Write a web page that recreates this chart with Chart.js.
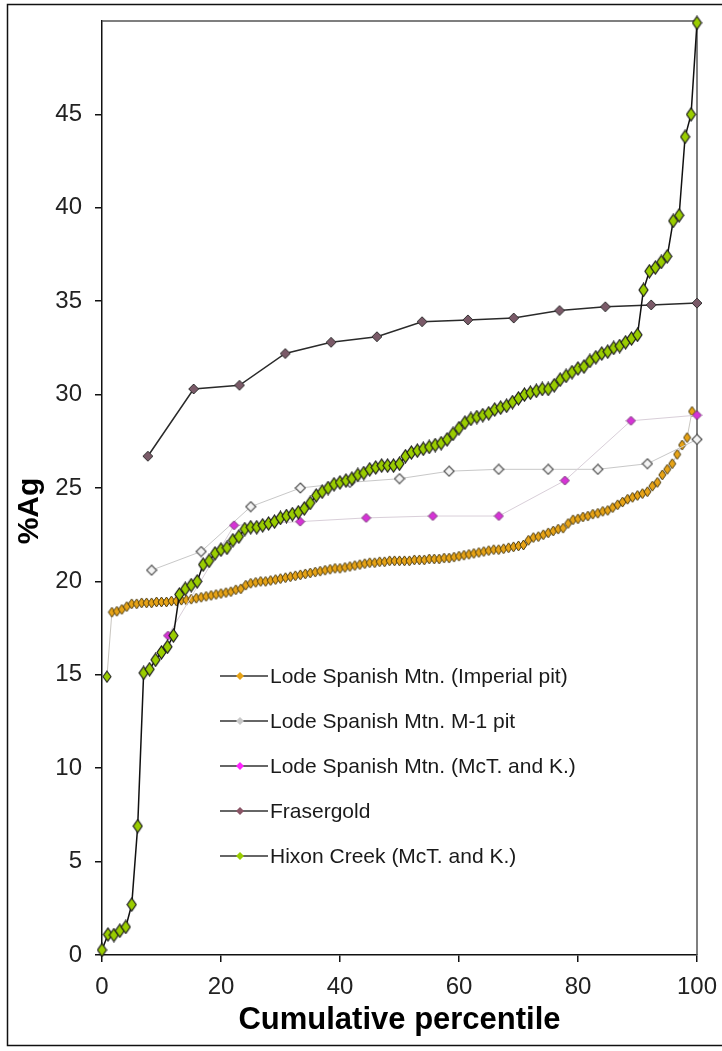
<!DOCTYPE html>
<html><head><meta charset="utf-8">
<script src="https://cdn.jsdelivr.net/npm/chart.js@4.4.0/dist/chart.umd.min.js"></script>
<style>html,body{margin:0;padding:0;background:#fff;}canvas{display:block;}</style>
</head><body>
<canvas id="c" width="722" height="1051"></canvas>
<script>
// ---------- DATA ----------
const seriesNames = [
  "Lode Spanish Mtn. (Imperial pit)",
  "Lode Spanish Mtn. M-1 pit",
  "Lode Spanish Mtn. (McT. and K.)",
  "Frasergold",
  "Hixon Creek (McT. and K.)"
];
// Imperial pit: %Ag sorted ascending (percentile = rank/(n+1))
const imperialAg = [
  14.9,18.35,18.4,18.5,18.65,18.8,18.8,18.85,18.85,18.85,
  18.9,18.9,18.9,18.95,18.95,19.0,19.0,19.05,19.1,19.15,
  19.2,19.25,19.3,19.35,19.4,19.45,19.55,19.6,19.8,19.9,
  19.95,20.0,20.0,20.05,20.1,20.15,20.2,20.25,20.3,20.35,
  20.4,20.45,20.5,20.55,20.6,20.65,20.7,20.7,20.75,20.8,
  20.85,20.9,20.95,21.0,21.0,21.05,21.05,21.1,21.1,21.1,
  21.1,21.1,21.15,21.15,21.15,21.2,21.2,21.2,21.25,21.25,
  21.3,21.35,21.4,21.45,21.5,21.55,21.6,21.65,21.7,21.7,
  21.75,21.8,21.85,21.9,21.95,22.2,22.35,22.4,22.5,22.6,
  22.7,22.8,22.85,23.1,23.3,23.35,23.45,23.5,23.6,23.65,
  23.75,23.8,23.95,24.1,24.25,24.4,24.5,24.6,24.7,24.8,
  25.1,25.3,25.7,26.0,26.3,26.8,27.3,27.7,29.1
];
const m1Pct = [8.33,16.67,25,33.33,41.67,50,58.33,66.67,75,83.33,91.67,100];
const m1Ag  = [20.6,21.6,24.0,25.0,25.3,25.5,25.9,26.0,26.0,26.0,26.3,27.6];
const mctPct = [11.1,22.2,33.3,44.4,55.6,66.7,77.8,88.9,100];
const mctAg  = [17.1,23.0,23.2,23.4,23.5,23.5,25.4,28.6,28.9];
const fraserPct = [7.7,15.4,23.1,30.8,38.5,46.2,53.8,61.5,69.2,76.9,84.6,92.3,100];
const fraserAg  = [26.7,30.3,30.5,32.2,32.8,33.1,33.9,34.0,34.1,34.5,34.7,34.8,34.9];
// Hixon Creek: %Ag sorted ascending (percentile = rank/(n-1))
const hixonAg = [
  0.27,1.1,1.07,1.3,1.5,2.7,6.9,15.1,15.3,15.8,
  16.2,16.5,17.1,19.3,19.6,19.8,20.0,20.9,21.1,21.5,
  21.7,21.8,22.2,22.4,22.8,22.9,22.9,23.0,23.1,23.2,
  23.4,23.5,23.6,23.7,23.9,24.2,24.6,24.8,25.0,25.2,
  25.3,25.4,25.5,25.7,25.8,26.0,26.1,26.2,26.2,26.2,
  26.3,26.7,26.9,27.0,27.1,27.2,27.3,27.4,27.6,27.9,
  28.2,28.5,28.7,28.8,28.9,29.0,29.2,29.3,29.4,29.6,
  29.8,30.0,30.1,30.2,30.3,30.3,30.5,30.8,31.0,31.2,
  31.4,31.5,31.8,32.0,32.2,32.3,32.5,32.6,32.8,33.0,
  33.2,35.6,36.6,36.8,37.1,37.4,39.3,39.6,43.8,45.0,
  49.9
];
const xTicks = [0,20,40,60,80,100];
const yTicks = [0,5,10,15,20,25,30,35,40,45];
const xTitle = "Cumulative percentile";
const yTitle = "%Ag";

// ---------- BUILD ----------
const pts = (xs, ys) => ys.map((y,i)=>({x:xs[i], y}));
const imperialPct = imperialAg.map((_,i)=> (i+1)*100/(imperialAg.length+1));
const hixonPct = hixonAg.map((_,i)=> i*100/(hixonAg.length-1));

function diamond(w,h,fill,stroke,lw){
  const c=document.createElement('canvas');
  c.width=w+2; c.height=h+2;
  const g=c.getContext('2d');
  g.beginPath();
  g.moveTo(c.width/2,1); g.lineTo(c.width-1,c.height/2);
  g.lineTo(c.width/2,c.height-1); g.lineTo(1,c.height/2); g.closePath();
  g.fillStyle=fill; g.fill();
  g.lineWidth=lw; g.strokeStyle=stroke; g.stroke();
  return c;
}
const imgOrange = diamond(7,10,'#e7a316','#4a3a10',1);
const imgGreenSm = diamond(8,11,'#9acd00','#222',1.1);
const imgM1 = diamond(10,10,'#f4f4f4','#555',1.2);
const imgMag = diamond(9,9,'#d633d6','#6a2a6a',0.9);
const imgFraser = diamond(10,10,'#7a5a68','#333',1);
const imgGreen = diamond(9,13,'#9acd00','#1a1a1a',1.2);

const xs = [imperialPct, m1Pct, mctPct, fraserPct, hixonPct];
const ys = [imperialAg, m1Ag, mctAg, fraserAg, hixonAg];
const lineColors = ['#c9c6c0','#c8c8c8','#d9cfd9','#2a2a2a','#111111'];
const lineWidths = [1,1,1,1.5,1.5];
const pointImgs = [
  (ctx)=> ctx.dataIndex===0 ? imgGreenSm : imgOrange,
  imgM1, imgMag, imgFraser, imgGreen
];
const orders = [4,3,2,1,0];

const datasets = seriesNames.map((name,k)=>({
  label: name,
  data: pts(xs[k], ys[k]),
  showLine: true,
  borderColor: lineColors[k],
  borderWidth: lineWidths[k],
  pointStyle: pointImgs[k],
  pointRadius: 5,
  pointHoverRadius: 5,
  tension: 0,
  clip: false,
  order: orders[k]
}));

const FONT = "'Liberation Sans', Arial, sans-serif";

const framePlugin = {
  id:'frame',
  beforeDraw(chart){
    const g=chart.ctx;
    g.save(); g.fillStyle='#fff'; g.fillRect(0,0,chart.width,chart.height);
    g.strokeStyle='#111'; g.lineWidth=1.5;
    g.strokeRect(7.5,4.5,chart.width+10,chart.height-10);
    g.restore();
  },
  beforeDatasetsDraw(chart){
    const a=chart.chartArea, g=chart.ctx;
    g.save(); g.strokeStyle='#555'; g.lineWidth=1.5;
    g.beginPath(); g.moveTo(a.left,a.top); g.lineTo(a.right,a.top); g.lineTo(a.right,a.bottom); g.stroke();
    g.restore();
  },
  afterDraw(chart){
    const g=chart.ctx;
    g.save();
    g.translate(30, 511);
    g.rotate(-Math.PI/2);
    g.font = "bold 30px " + FONT;
    g.fillStyle='#000'; g.textAlign='center'; g.textBaseline='middle';
    g.fillText(yTitle, 0, 0);
    g.restore();
  }
};

const legendSwatches = [
  {line:'#333', dot:'#e7a316'},
  {line:'#333', dot:'#c8c8c8'},
  {line:'#333', dot:'#ff22ff'},
  {line:'#333', dot:'#8a5566'},
  {line:'#333', dot:'#9acd00'}
];
const legendPlugin = {
  id:'inlegend',
  afterDraw(chart){
    const g=chart.ctx;
    const x0=220, x1=268, tx=270, y0=676, dy=45;
    g.save();
    g.font = "21px " + FONT;
    g.textBaseline='middle';
    seriesNames.forEach((name,i)=>{
      const y=y0+i*dy;
      g.strokeStyle=legendSwatches[i].line; g.lineWidth=1.5;
      g.beginPath(); g.moveTo(x0,y); g.lineTo(x1,y); g.stroke();
      g.fillStyle=legendSwatches[i].dot;
      g.beginPath(); g.moveTo(240,y-4); g.lineTo(244,y); g.lineTo(240,y+4); g.lineTo(236,y); g.closePath(); g.fill();
      g.fillStyle='#1a1a1a';
      g.fillText(name, tx, y+1);
    });
    g.restore();
  }
};

new Chart(document.getElementById('c'), {
  type:'scatter',
  data:{ datasets },
  options:{
    responsive:false,
    animation:false,
    devicePixelRatio:1,
    layout:{ padding:{left:10,right:25,top:21,bottom:10} },
    plugins:{ legend:{display:false}, tooltip:{enabled:false} },
    scales:{
      x:{
        type:'linear', min:0, max:100,
        afterBuildTicks:(s)=>{ s.ticks = xTicks.map(v=>({value:v})); },
        afterFit:(s)=>{ s.height=86; s.paddingLeft=0; s.paddingRight=0; },
        ticks:{ font:{family:FONT,size:24}, color:'#222', padding:11, maxRotation:0 },
        grid:{ drawOnChartArea:false, drawTicks:true, tickLength:7, color:'#111', lineWidth:1.5 },
        border:{ display:true, color:'#111', width:1.5 },
        title:{ display:true, text:xTitle, color:'#000', font:{family:FONT,size:31,weight:'bold'}, padding:{top:0,bottom:2} }
      },
      y:{
        type:'linear', min:0, max:50,
        afterBuildTicks:(s)=>{ s.ticks = yTicks.map(v=>({value:v})); },
        afterFit:(s)=>{ s.width=92; s.paddingTop=0; s.paddingBottom=0; },
        ticks:{ font:{family:FONT,size:24}, color:'#222', padding:13 },
        grid:{ drawOnChartArea:false, drawTicks:true, tickLength:7, color:'#111', lineWidth:1.5 },
        border:{ display:true, color:'#111', width:1.5 },
        title:{ display:false }
      }
    }
  },
  plugins:[framePlugin, legendPlugin]
});
</script>
</body></html>
